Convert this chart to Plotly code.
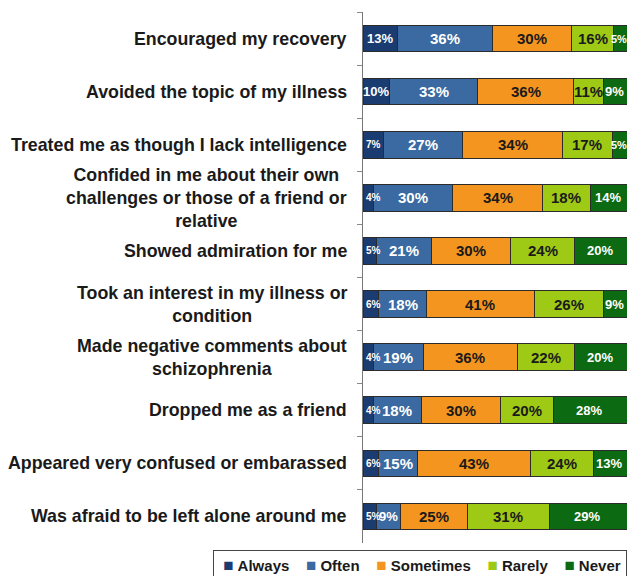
import plotly.graph_objects as go

# Survey items (top to bottom) and response shares in percent
items = [
    "Encouraged my recovery",
    "Avoided the topic of my illness",
    "Treated me as though I lack intelligence",
    "Confided in me about their own<br>challenges or those of a friend or<br>relative",
    "Showed admiration for me",
    "Took an interest in my illness or<br>condition",
    "Made negative comments about<br>schizophrenia",
    "Dropped me as a friend",
    "Appeared very confused or embarassed",
    "Was afraid to be left alone around me",
]
categories = ["Always", "Often", "Sometimes", "Rarely", "Never"]
always = [13, 10, 7, 4, 5, 6, 4, 4, 6, 5]
often = [36, 33, 27, 30, 21, 18, 19, 18, 15, 9]
sometimes = [30, 36, 34, 34, 30, 41, 36, 30, 43, 25]
rarely = [16, 11, 17, 18, 24, 26, 22, 20, 24, 31]
never = [5, 9, 5, 14, 20, 9, 20, 28, 13, 29]

series = [always, often, sometimes, rarely, never]
colors = ["#1b3c70", "#3a6aa1", "#f4951f", "#9ec915", "#0c6a12"]
text_colors = ["white", "white", "#1a1a1a", "#1a1a1a", "white"]
text_sizes = [13, 15, 15, 15, 13]

FONT = "Liberation Sans, Arial, Helvetica, sans-serif"

fig = go.Figure()
for name, vals, col in zip(categories, series, colors):
    fig.add_trace(go.Bar(
        y=items,
        x=vals,
        name=name,
        orientation="h",
        width=0.5,
        marker=dict(color=col, line=dict(color="#2b2b2b", width=1)),
        showlegend=False,
        hoverinfo="skip",
    ))

annotations = []

# Value labels on each stacked segment (stacks normalised to 100 %)
totals = [sum(row) for row in zip(*series)]
n_series = len(series)
for i, it in enumerate(items):
    start = 0.0
    for k, (vals, tcol, tsize) in enumerate(zip(series, text_colors, text_sizes)):
        share = vals[i] / totals[i] * 100
        first = k == 0
        last = k == n_series - 1
        size = tsize
        if vals[i] < 8:
            size = 10 if first else (11 if last else 13)
        elif vals[i] < 10:
            size = 13
        if first and vals[i] < 8:
            # narrow first segment: start the label at the bar's left edge
            pos, anchor, shift = start, "left", 1
        else:
            pos, anchor, shift = start + share / 2, "center", (-1 if last else 0)
        annotations.append(dict(
            x=pos, xref="x", y=it, yref="y",
            text=f"{vals[i]}%", showarrow=False,
            xanchor=anchor, yanchor="middle", xshift=shift,
            font=dict(family=FONT, size=size, color=tcol, weight="bold"),
        ))
        start += share

# Item labels, centred multi-line text right-aligned against the axis
for it in items:
    annotations.append(dict(
        x=0, xref="paper", y=it, yref="y",
        text=it, showarrow=False,
        xanchor="right", yanchor="middle", align="center",
        xshift=-14,
        font=dict(family=FONT, size=17.8, color="#1a1a1a", weight="bold"),
    ))

# Legend row built from the response categories
sp = "&nbsp;"
legend_parts = [
    f"<span style='color:{c};font-size:17px'>■</span>{sp}{n}" for n, c in zip(categories, colors)
]
legend_text = sp + (sp * 4).join(legend_parts)
annotations.append(dict(
    x=1, xref="paper", y=-0.0132, yref="paper",
    xanchor="right", yanchor="top",
    text=legend_text, showarrow=False,
    bordercolor="#444", borderwidth=1, borderpad=5, bgcolor="white",
    font=dict(family=FONT, size=15, color="#1a1a1a", weight="bold"),
))

fig.update_layout(
    barmode="stack",
    barnorm="percent",
    width=627, height=576,
    margin=dict(l=363, r=0, t=12, b=33),
    paper_bgcolor="white",
    plot_bgcolor="white",
    annotations=annotations,
)
fig.update_xaxes(range=[0, 100], visible=False)
fig.update_yaxes(
    autorange="reversed",
    showticklabels=False,
    showline=True, linecolor="#777", linewidth=1,
    ticks="outside", tickson="boundaries", ticklen=5, tickcolor="#888",
    showgrid=False, zeroline=False,
)

fig.write_html("out.html")
